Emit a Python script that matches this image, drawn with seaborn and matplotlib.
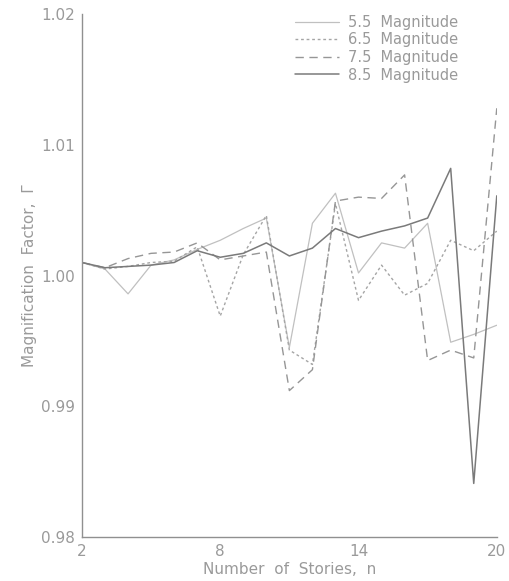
import numpy as np
import pandas as pd
import matplotlib
matplotlib.use("Agg")
import matplotlib.pyplot as plt
import seaborn as sns

# ---- data ----
stories = [2, 3, 4, 5, 6, 7, 8, 9, 10, 11, 12, 13, 14, 15, 16, 17, 18, 19, 20]
mag_55 = [1.0010, 1.0005, 0.9986, 1.0008, 1.0012, 1.0020, 1.0027, 1.0036, 1.0044, 0.9945,
          1.0040, 1.0063, 1.0002, 1.0025, 1.0021, 1.0040, 0.9949, 0.9955, 0.9962]
mag_65 = [1.0010, 1.0005, 1.0007, 1.0010, 1.0011, 1.0022, 0.9969, 1.0016, 1.0046, 0.9943,
          0.9932, 1.0055, 0.9981, 1.0008, 0.9985, 0.9994, 1.0027, 1.0019, 1.0034]
mag_75 = [1.0010, 1.0006, 1.0013, 1.0017, 1.0018, 1.0025, 1.0012, 1.0015, 1.0018, 0.9912,
          0.9928, 1.0057, 1.0060, 1.0059, 1.0077, 0.9935, 0.9943, 0.9937, 1.0128]
stories_85 = [2, 2, 3, 4, 5, 6, 7, 8, 9, 10, 11, 12, 13, 14, 15, 16, 17, 18, 19, 20]
mag_85 = [1.0200, 1.0010, 1.0006, 1.0007, 1.0008, 1.0010, 1.0019, 1.0014, 1.0017, 1.0025, 1.0015,
          1.0021, 1.0036, 1.0029, 1.0034, 1.0038, 1.0044, 1.0082, 0.9841, 1.0061]
labels = ["5.5  Magnitude", "6.5  Magnitude", "7.5  Magnitude", "8.5  Magnitude"]
y_ticks = [0.98, 0.99, 1.00, 1.01, 1.02]
x_major = [2, 8, 14, 20]

sns.set_style("white")
plt.rcParams["font.family"] = ["DejaVu Sans"]

fig = plt.figure(figsize=(5.09, 5.81), dpi=100)
ax = fig.add_axes([0.161, 0.0757, 0.815, 0.900])

txt = "#9a9a9a"
styles = [
    dict(color="#c0c0c0", lw=0.9, ls="-"),
    dict(color="#a5a5a5", lw=1.0, ls=(0, (2.0, 2.0))),
    dict(color="#969696", lw=1.0, ls=(0, (6.0, 4.0))),
    dict(color="#7a7a7a", lw=1.1, ls="-"),
]
series = [(stories, mag_55), (stories, mag_65), (stories, mag_75), (stories_85, mag_85)]
for (xs, ys), lab, st in zip(series, labels, styles):
    sns.lineplot(x=xs, y=ys, ax=ax, estimator=None, sort=False, label=lab,
                 color=st["color"], linewidth=st["lw"], linestyle=st["ls"])

ax.set_xlim(2, 20)
ax.set_ylim(0.98, 1.02)
ax.set_xticks(x_major)
ax.set_xticks(stories, minor=True)
ax.set_yticks(y_ticks)
ax.set_yticklabels([f"{v:.2f}" for v in y_ticks])
ax.tick_params(axis="both", which="major", direction="in", length=6, width=0.8,
               colors="#a0a0a0", labelcolor=txt, labelsize=11, pad=5)
ax.tick_params(axis="x", which="minor", direction="in", length=3.5, width=0.7, colors="#a0a0a0")
ax.tick_params(axis="x", which="major", length=7)

for s in ["top", "right"]:
    ax.spines[s].set_visible(False)
for s in ["left", "bottom"]:
    ax.spines[s].set_color("#909090")
    ax.spines[s].set_linewidth(1.0)

ax.set_xlabel("Number  of  Stories,  n", color=txt, fontsize=11, labelpad=2)
ax.set_ylabel("Magnification  Factor,  Γ", color=txt, fontsize=11, labelpad=3)

leg = ax.legend(loc="upper left", bbox_to_anchor=(0.50, 1.01), frameon=False,
                fontsize=10.5, handlelength=3.0, handletextpad=0.6, labelspacing=0.18,
                borderaxespad=0.0)
for t in leg.get_texts():
    t.set_color(txt)

ax.grid(False)
fig.savefig("out.png", dpi=100, facecolor="white")
